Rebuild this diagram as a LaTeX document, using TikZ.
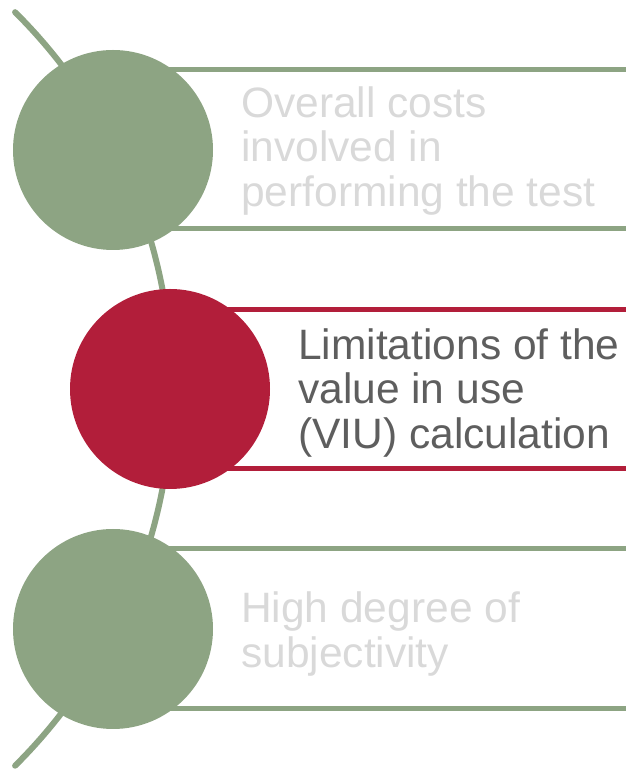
\documentclass[tikz,border=0pt]{standalone}
\usepackage{fontspec}
\setmainfont{Liberation Sans}
\definecolor{sage}{RGB}{141,164,131}
\definecolor{crimson}{RGB}{178,30,58}
\definecolor{lightgray}{RGB}{217,217,217}
\definecolor{darkgray}{RGB}{94,94,94}
\tikzset{
  bubble/.style={circle, minimum size=200pt, inner sep=0pt, draw=none},
  band/.style={line width=5pt},
  label/.style={anchor=west, inner sep=0pt, align=left, font=\fontsize{42.5}{44.5}\selectfont},
}
\begin{document}
\begin{tikzpicture}[x=1pt,y=1pt]
\useasboundingbox (0,0) rectangle (626,770);
% curved spine
\coordinate (arcS) at (15.1,757.8);
\draw[sage, line width=6pt, line cap=round] (arcS) arc[start angle=45.2, end angle=-45.2, radius=531pt];
% bands
\coordinate (g1a) at (113,700); \coordinate (g1ae) at (626,700);
\coordinate (g1b) at (113,541); \coordinate (g1be) at (626,541);
\coordinate (r2a) at (170,460); \coordinate (r2ae) at (626,460);
\coordinate (r2b) at (170,301); \coordinate (r2be) at (626,301);
\coordinate (g3a) at (113,221); \coordinate (g3ae) at (626,221);
\coordinate (g3b) at (113,61);  \coordinate (g3be) at (626,61);
\draw[band, sage] (g1a) -- (g1ae);
\draw[band, sage] (g1b) -- (g1be);
\draw[band, crimson] (r2a) -- (r2ae);
\draw[band, crimson] (r2b) -- (r2be);
\draw[band, sage] (g3a) -- (g3ae);
\draw[band, sage] (g3b) -- (g3be);
% circles
\node[bubble, fill=sage] (c1) at (113,620) {};
\node[bubble, fill=crimson] (c2) at (170,381) {};
\node[bubble, fill=sage] (c3) at (113,141) {};
% texts
\node[label, text=lightgray] (t1) at (241,619) {Overall costs\\involved in\\performing the test};
\node[label, text=darkgray] (t2) at (298,377) {Limitations of the\\value in use\\(VIU) calculation};
\node[label, text=lightgray] (t3) at (241,136) {High degree of\\subjectivity};
\end{tikzpicture}
\end{document}
